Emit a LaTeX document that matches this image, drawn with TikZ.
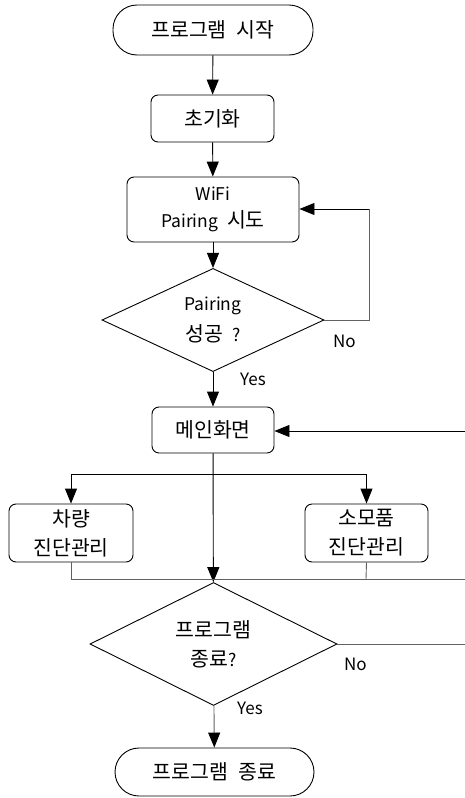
\documentclass[tikz,border=0pt]{standalone}
\usepackage{fontspec}
\setmainfont{Noto Sans CJK KR}
\usetikzlibrary{shapes.geometric,arrows.meta}
\newcommand\kr[1]{{\fontsize{20.5}{26}\selectfont #1}}
\newcommand\wsp{\hspace{0.5em}}
\begin{document}
\begin{tikzpicture}[x=1pt,y=-1pt,
  every node/.style={font=\fontsize{17.5}{26}\selectfont, inner sep=0pt, align=center},
  term/.style={draw, line width=0.9pt, rounded corners=24pt, minimum width=200pt, minimum height=50pt},
  proc/.style={draw, line width=0.9pt, rounded corners=7pt},
  dec/.style={draw, line width=0.9pt, diamond, inner sep=0pt},
  ln/.style={line width=0.9pt},
  gln/.style={line width=0.9pt, draw=black!62},
  arr/.style={-{Triangle[length=15pt,width=12pt,color=black]}},
  lbl/.style={font=\fontsize{17}{20}\selectfont, anchor=west}
]
\useasboundingbox (0,0) rectangle (465,798);
% nodes
\node[term] (start) at (213,30) {\kr{프로그램\wsp 시작}};
\node[proc, minimum width=123pt, minimum height=47pt] (init) at (212.5,118.5) {\kr{초기화}};
\node[proc, minimum width=172pt, minimum height=65pt] (wifi) at (213,209.5) {WiFi\\[1pt]Pairing\wsp\kr{시도}};
\node[dec, minimum width=222pt, minimum height=78pt] (d1) at (213,320) {Pairing\\[5pt]\kr{성공}\wsp ?};
\node[proc, minimum width=122pt, minimum height=46pt] (main) at (213,430) {\kr{메인화면}};
\node[proc, minimum width=124pt, minimum height=58pt] (car) at (71,533) {\kr{차량}\\[3pt]\kr{진단관리}};
\node[proc, minimum width=123pt, minimum height=58pt] (cons) at (366.5,533) {\kr{소모품}\\[3pt]\kr{진단관리}};
\node[dec, minimum width=247pt, minimum height=78pt] (d2) at (213.5,644) {\kr{프로그램}\\[3pt]\kr{종료}?};
\node[term, minimum width=199pt, minimum height=48pt] (stop) at (214.5,772) {\kr{프로그램\wsp 종료}};
% helper coordinates
\coordinate (loopR) at (369,209);
\coordinate (brL) at (71,474);
\coordinate (brR) at (366,474);
\coordinate (brM) at (213,474);
\coordinate (edgeMain) at (465,431);
\coordinate (jn) at (213,579);
\coordinate (carB) at (71,579);
\coordinate (consB) at (366,579);
\coordinate (edgeJ) at (465,579);
\coordinate (edgeD2) at (465,644);
% connectors
\draw[ln,arr] (start) -- (init);
\draw[ln,arr] (init) -- (wifi);
\draw[ln,arr] (wifi) -- (d1);
\draw[gln] (d1.east) -| (loopR);
\draw[ln,arr] (loopR) -- (wifi.east |- loopR);
\draw[ln,arr] (d1) -- (main);
\draw[ln,arr] (edgeMain) -- (main.east |- edgeMain);
\draw[ln,arr] (main) -- (d2);
\draw[ln,arr] (brM) -| (car.north);
\draw[ln,arr] (brM) -| (cons.north);
\draw[gln] (car.south) -- (carB) -- (edgeJ);
\draw[gln] (cons.south) -- (consB);
\draw[gln] (d2.east) -- (edgeD2);
\draw[gln,arr] (d2) -- (stop);
% labels
\node[lbl] (no1) at (333,341) {No};
\node[lbl] (yes1) at (240,379) {Yes};
\node[lbl] (no2) at (344,664) {No};
\node[lbl] (yes2) at (237,708) {Yes};
\end{tikzpicture}
\end{document}
